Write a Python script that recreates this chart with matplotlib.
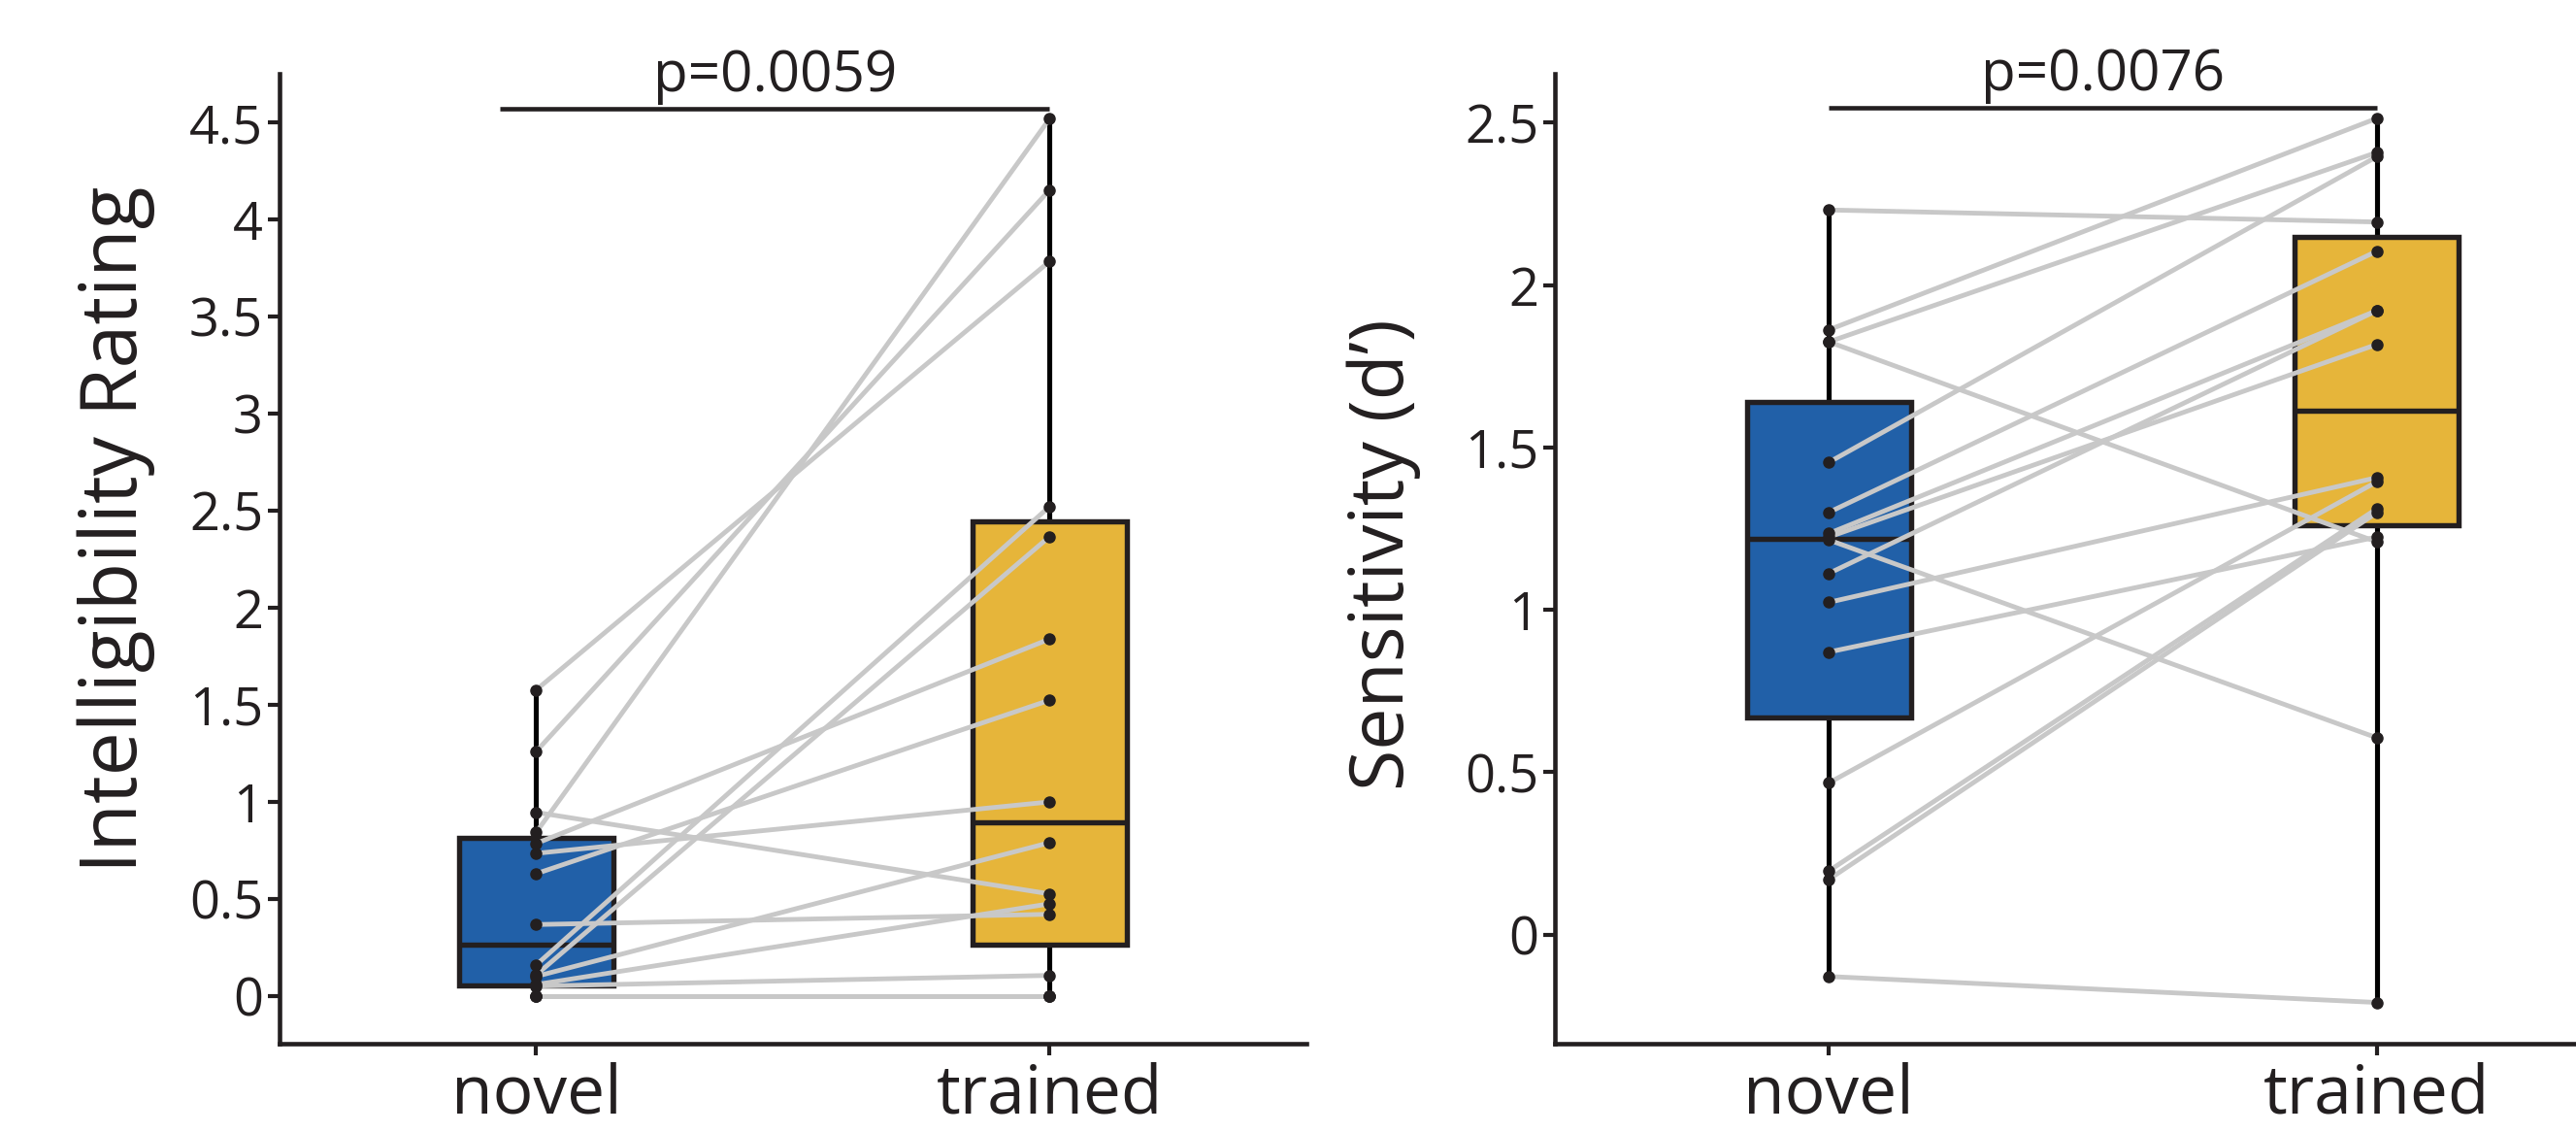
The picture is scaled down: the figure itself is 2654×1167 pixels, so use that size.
import matplotlib
matplotlib.use("Agg")
import matplotlib.pyplot as plt
import numpy as np

plt.rcParams["font.family"] = ["Open Sans", "DejaVu Sans"]

# paired values, one entry per listener (novel, trained)
conditions = ["novel", "trained"]
novel_int = [1.576, 1.259, 0.945, 0.842, 0.785, 0.734, 0.629, 0.367,
             0.159, 0.108, 0.100, 0.058, 0.050, 0.0, 0.0, 0.0]
trained_int = [3.784, 4.152, 0.525, 4.519, 1.838, 0.999, 1.523, 0.420,
               2.521, 2.366, 0.789, 0.474, 0.105, 0.0, 0.0, 0.0]

novel_d = [2.231, 1.862, 1.825, 1.825, 1.454, 1.300, 1.235, 1.224,
           1.215, 1.112, 1.023, 0.870, 0.467, 0.196, 0.170, -0.129]
trained_d = [2.194, 2.513, 2.408, 1.209, 2.395, 2.104, 1.921, 1.817,
             0.606, 1.921, 1.407, 1.224, 1.394, 1.311, 1.299, -0.209]

p_int = "p=0.0059"
p_d = "p=0.0076"

int_ticks = [0, 0.5, 1, 1.5, 2, 2.5, 3, 3.5, 4, 4.5]
d_ticks = [0, 0.5, 1, 1.5, 2, 2.5]

DARK = "#231F20"
GREY = "#C8C8C8"
BLUE = "#2160A8"
GOLD = "#E6B53A"


def box_stats(values):
    # quartiles as medians of the lower / upper halves
    x = np.sort(np.asarray(values, dtype=float))
    n = len(x)
    return {
        "med": np.median(x),
        "q1": np.median(x[: n // 2]),
        "q3": np.median(x[(n + 1) // 2:]),
        "whislo": x.min(),
        "whishi": x.max(),
        "fliers": [],
    }


def fmt(v):
    return f"{v:g}"


def draw_panel(ax, novel, trained, ticks, ylim, ylabel, label_size, ptext,
               bar_y, bar_x0, label_xy):
    stats = [box_stats(novel), box_stats(trained)]
    bp = ax.bxp(
        stats,
        positions=[1, 2],
        widths=0.3,
        patch_artist=True,
        showcaps=False,
        showfliers=False,
        boxprops=dict(edgecolor=DARK, linewidth=3.9),
        medianprops=dict(color=DARK, linewidth=3.9),
        whiskerprops=dict(color="black", linewidth=3.7),
    )
    for patch, col in zip(bp["boxes"], [BLUE, GOLD]):
        patch.set_facecolor(col)
        patch.set_zorder(2)
    for m in bp["medians"]:
        m.set_zorder(2.5)
    for w in bp["whiskers"]:
        w.set_zorder(1.5)

    for a, b in zip(novel, trained):
        ax.plot([1, 2], [a, b], color=GREY, lw=3.5, zorder=3, solid_capstyle="butt")
    ax.plot(np.ones(len(novel)), novel, "o", color=DARK, ms=8, zorder=4)
    ax.plot(np.full(len(trained), 2), trained, "o", color=DARK, ms=8, zorder=4)

    ax.plot([bar_x0, 2], [bar_y, bar_y], color=DARK, lw=3.3, clip_on=False,
            solid_capstyle="butt")
    ax.annotate(ptext, xy=((bar_x0 + 2) / 2, bar_y), xytext=(0, 13),
                textcoords="offset points", ha="center", va="baseline",
                fontsize=42, color=DARK, annotation_clip=False)

    ax.set_xlim(0.5, 2.5)
    ax.set_ylim(*ylim)
    ax.set_xticks([1, 2])
    ax.set_xticklabels(conditions, fontsize=50, color=DARK)
    ax.set_yticks(ticks)
    ax.set_yticklabels([fmt(t) for t in ticks], fontsize=39, color=DARK)
    ax.set_ylabel(ylabel, fontsize=label_size, color=DARK)
    ax.yaxis.set_label_coords(*label_xy)

    for side in ["top", "right"]:
        ax.spines[side].set_visible(False)
    for side in ["left", "bottom"]:
        ax.spines[side].set_linewidth(3.3)
        ax.spines[side].set_color(DARK)
    ax.tick_params(axis="both", length=8.6, width=3.0, color=DARK)
    ax.tick_params(axis="y", pad=3.6)
    ax.tick_params(axis="x", pad=5)


fig = plt.figure(figsize=(26.54, 11.67), dpi=100)
ax1 = fig.add_axes([0.1085, 0.0788, 0.3986, 0.856])
ax2 = fig.add_axes([0.6036, 0.0788, 0.4254, 0.856])

draw_panel(ax1, novel_int, trained_int, int_ticks, (-0.247, 4.75),
           "Intelligibility Rating", 58, p_int, 4.572, 0.93, (-0.121, 0.53))
draw_panel(ax2, novel_d, trained_d, d_ticks, (-0.336, 2.65),
           "Sensitivity (d\u2019)", 55.5, p_d, 2.545, 1.0, (-0.122, 0.504))

fig.savefig("out.png", dpi=100)
